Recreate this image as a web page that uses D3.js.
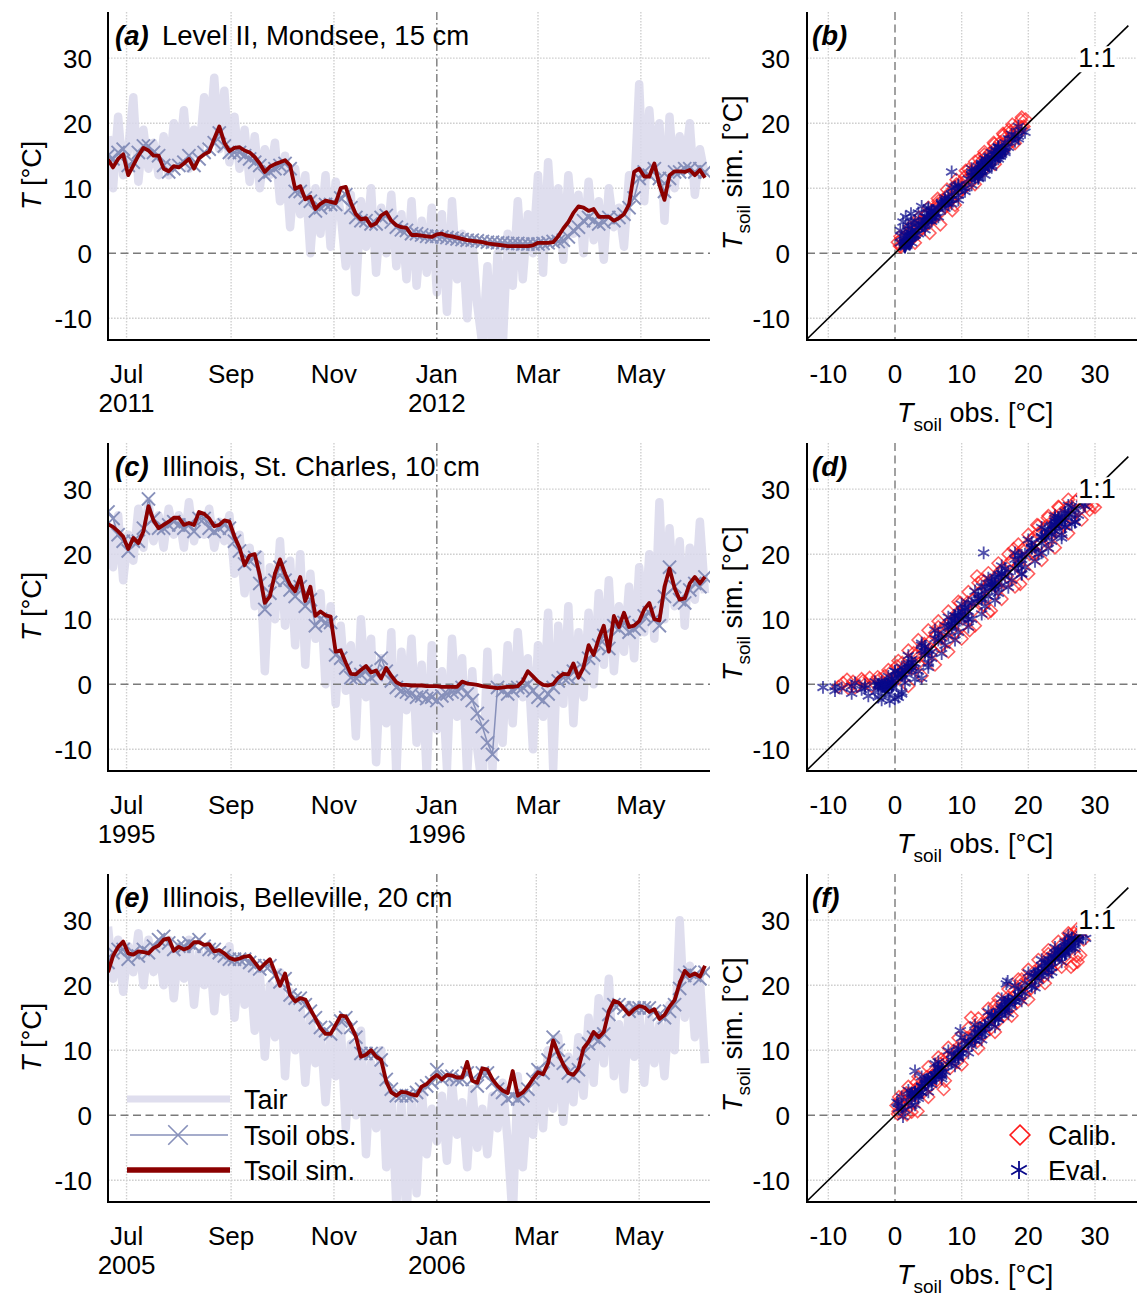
<!DOCTYPE html>
<html>
<head>
<meta charset="utf-8">
<script src="https://cdn.jsdelivr.net/npm/d3@7"></script>
<style>
  body { margin: 0; background: #fff; }
  svg { display: block; font-family: "Liberation Sans", Arial, Helvetica, sans-serif; }
</style>
</head>
<body>
<svg id="fig" width="1137" height="1298"></svg>
<script>
// ---------------------------------------------------------------
// Daily series sampled every third day, starting on the given date
// ---------------------------------------------------------------
const stepDays = 3;
const seriesStart = ["2011-06-20", "1995-06-20", "2005-06-20"];

// Level II, Mondsee, 15 cm
const tairA = [18,10,21,12,16,24,11,19,13,17,12, 18,12,20,14,22,13,19,15,24,17,27,16, 25,14,21,13,19,11,18,10,16,12,
  17,8,15,4,13,6,12,0,10, 3,12,1,11,6,-2,9, -6,8,1,10,-3,7,0,9,-2,6,-4, 8,-5,5,-3,7,-6,6, -9,8,-4,3,-10,2,-8,
  -14,-2,-16,0,-15,3, -5,8,-4,6,0,12, -3,14,2,10,-1,12,3, 9,0,11,2,8,-1,10,4, 7,1,12,9, 26,8,22,12,20,5, 21,10,18,13,20,9,16,12];
const obsA = [15.0,14.5,15.5,16.0,13.5,14.0,15.5,16.5,16.5,15.5,15.0, 13.5,12.5,13.0,13.5,14.0,15.0,13.5,14.5,15.5,16.0,17.0,18.5,
  16.5,15.5,15.5,15.5,15.0,14.5,14.0,13.5,12.0,12.5, 13.0,13.5,13.8,13.0,9.5,9.5,8.5,8.0,6.5, 7.0,7.5,7.5,7.5,8.5,9.0,7.0,
  5.5,5.0,5.0,4.5,4.5,5.5,5.8,4.8,4.0,3.6,3.5, 3.0,3.0,2.8,2.6,2.5,2.6,2.5, 2.4,2.3,2.2,2.1,2.0,2.0,1.9, 1.8,1.7,1.7,1.6,1.6,1.5,
  1.5,1.5,1.4,1.4,1.4,1.4, 1.5,1.6,1.8,1.8,2.0,2.5,3.5, 4.0,5.0,5.5,5.0,4.5,4.8,5.5,5.0, 5.5,6.0,7.0,8.5, 11.5,12.5,12.0,13.0,11.5,9.5,
  11.5,12.5,12.5,13.0,13.0,12.5,13.0,12.5];
const simA = [14.4,13.2,14.5,15.2,12.0,13.5,15.0,16.2,15.8,15.0,15.0, 13.0,12.6,13.4,13.2,13.8,14.5,13.0,14.6,15.2,15.6,17.6,19.5,
  17.0,15.7,16.2,16.3,15.8,15.5,14.8,13.8,12.5,13.3, 13.7,14.0,14.3,13.5,9.9,10.3,8.3,8.7,6.8, 7.6,8.1,7.9,7.7,10.0,10.2,7.8,
  6.0,5.2,5.4,4.2,4.6,5.8,6.3,5.0,4.3,4.0,3.9, 2.8,2.8,2.7,2.6,2.5,2.9,3.0, 2.7,2.6,2.4,2.2,2.0,1.9,1.8, 1.7,1.5,1.4,1.3,1.2,1.1,
  1.1,1.1,1.1,1.1,1.2,1.6, 1.6,1.6,1.7,2.6,3.8,4.8,6.2, 7.2,7.0,6.5,6.8,5.6,5.6,5.6,5.0, 5.4,6.0,7.5,12.5, 13.0,11.8,11.8,13.8,10.5,8.2,
  12.0,12.6,12.6,12.5,12.8,12.0,12.8,11.6];

// Illinois, St. Charles, 10 cm
const tairC = [24,18,26,16,23,19,27,21,28,22,26, 21,27,23,26,21,28,22,26,23,27,21,25, 22,26,17,23,14,21,12,20,2,18,
  10,22,9,19,6,20,3,17,7, 14,0,12,-3,9,-1,6, -8,10,-2,7,-12,4,-6,8,-14,5,-4, 7,-9,3,-14,6,-7,2, -13,7,-5,4,-14,2,-10,
  -16,5,-13,1,-9,6, -6,8,-2,4,-10,6, -5,11,-13,9,-3,12,-6, 8,-2,11,0,14,3,16,2, 12,5,15,4, 18,8,20,7,28,10, 24,12,22,9,21,13,25,14];
const obsC = [26.5,25.5,23.0,22.0,20.5,22.0,22.0,24.0,28.5,25.5,24.0, 24.0,24.5,25.0,24.5,24.0,24.5,23.5,25.5,25.5,24.0,23.5,24.0,
  24.5,24.0,22.0,20.5,18.5,19.0,19.5,15.5,11.5,14.0, 16.0,18.0,16.0,14.5,13.5,15.0,12.0,13.0,9.0, 10.0,9.5,9.5,4.5,4.0,2.5,1.0,
  1.0,1.5,2.0,1.0,1.5,4.0,2.0,0.5,-0.5,-1.0,-1.2, -1.5,-2.0,-1.8,-2.2,-2.0,-2.5,-1.8, -1.5,-1.2,-1.0,-0.5,-1.5,-2.5,-4.5,
  -6.5,-9.0,-10.8,-0.5,-1.0,-1.5, -1.0,-0.5,-0.5,0.0,-1.0,-2.0, -2.5,-1.5,-0.5,0.5,1.0,1.0,2.0, 1.5,2.5,4.0,4.5,6.0,7.5,5.5,9.0,
  8.5,9.5,8.0,8.5, 9.0,10.5,11.0,10.0,9.0,13.5, 18.0,15.0,13.0,12.5,14.5,15.5,15.0,16.5];
const simC = [24.6,24.2,23.5,22.7,20.8,22.5,21.7,23.5,27.4,25.2,24.0, 24.5,25.0,25.6,25.6,24.5,24.8,24.5,26.5,26.2,25.5,24.3,24.5,
  25.2,25.0,22.7,21.0,18.3,19.8,20.0,16.8,12.5,13.5, 17.0,19.2,17.0,15.3,14.3,16.5,12.8,15.0,10.5, 11.2,10.6,10.4,5.0,5.2,3.3,1.6,
  1.5,2.2,2.8,1.8,2.1,0.9,2.5,1.3,0.3,-0.1,-0.1, -0.2,-0.2,-0.2,-0.3,-0.3,-0.3,-0.4, -0.4,-0.4,-0.4,0.4,0.1,0.0,-0.1,
  -0.3,-0.4,-0.5,-0.6,-0.5,-0.4, -0.4,-0.3,0.5,2.0,1.2,0.4, -0.1,-0.2,0.0,1.0,1.6,1.5,3.2, 1.0,2.6,6.0,4.5,7.0,9.0,5.0,10.5,
  8.8,11.0,8.8,9.0, 9.7,11.5,12.5,10.0,9.8,15.0, 17.8,14.8,13.0,13.2,15.5,16.5,15.5,16.5];

// Illinois, Belleville, 20 cm
const tairE = [29,21,27,19,26,22,28,20,27,22,26, 20,27,18,26,21,27,17,25,20,26,16,25, 19,26,15,24,17,23,13,22,9,20,
  12,22,6,19,10,17,5,15,8, 13,2,12,6,14,-2,11, 0,13,-6,8,-2,10,-8,4,-14,2,-16, 3,-12,4,-6,1,-4,3, -7,5,-3,2,-8,4,-5,
  1,-6,3,-2,5,-4, -16,6,-8,3,-3,7, -2,10,1,12,-1,9,2, 12,3,15,5,18,8,21,6, 14,4,17,9, 16,5,15,8,14,6, 17,10,30,15,23,12,21,8];
const obsE = [23.5,25.0,25.5,25.5,24.0,25.0,24.5,25.5,25.0,26.0,27.0, 27.5,26.5,25.5,26.0,26.0,26.5,26.0,27.0,26.0,25.5,25.5,25.0,
  24.5,24.0,24.0,24.0,24.0,23.5,23.0,22.5,23.0,23.0, 21.5,20.5,21.0,18.5,18.0,18.0,17.0,16.0,15.0, 13.5,13.0,12.5,13.5,14.5,15.0,13.5,
  12.0,9.5,9.5,9.5,9.5,8.5,5.5,4.0,3.0,3.0,3.0, 3.0,3.5,4.0,4.5,5.0,7.0,5.5, 6.0,6.0,5.5,5.5,6.5,5.5,4.5, 6.5,6.5,5.0,4.0,3.5,2.5,
  3.0,2.5,3.0,4.0,5.5,7.0, 6.5,8.5,12.0,10.0,8.0,6.5,6.0, 7.0,9.5,11.0,12.0,11.5,12.5,15.5,17.0, 17.0,16.5,16.0,16.5,
  16.5,16.5,16.5,16.0,15.5,15.0, 16.0,17.0,19.5,21.5,22.0,21.5,21.0,22.0];
const simE = [22.0,24.5,25.9,26.7,24.9,24.7,25.2,25.1,24.9,25.7,26.1, 27.0,27.2,25.3,25.9,25.5,25.8,26.6,26.6,26.2,26.3,25.2,25.4,
  24.9,24.2,23.9,24.1,24.4,24.5,23.5,22.5,23.3,24.0, 22.0,19.9,21.8,18.5,17.5,18.0,17.8,16.3,14.9, 13.4,12.5,12.5,13.9,15.3,15.2,13.8,
  12.1,9.0,9.3,10.0,9.0,8.5,5.2,3.5,3.0,3.6,3.5, 3.2,3.0,4.4,4.8,5.6,6.2,5.5, 6.2,6.1,5.8,5.8,8.2,5.3,5.0, 7.2,7.0,5.5,4.5,3.8,3.4,
  6.8,3.0,3.5,4.4,5.6,6.6, 6.3,8.0,11.5,9.5,7.8,6.5,6.2, 7.2,10.3,11.3,12.8,12.0,12.8,16.0,17.6, 17.3,16.4,15.5,16.3,
  16.8,16.6,15.9,16.3,14.8,15.4, 16.7,17.7,20.3,22.2,21.4,21.8,21.3,23.0];

// ---------------------------------------------------------------
// Scatter points [observed, simulated]: calibration years, and the
// evaluation years besides the one shown in the time series
// ---------------------------------------------------------------
const calibB = [[0.4,1.7],[0.7,1.1],[1.0,2.2],[1.3,1.5],[1.6,2.6],[2.0,1.8],[2.3,3.3],[2.7,2.4],[3.0,4.0],[3.4,3.2],
  [3.8,4.8],[4.1,3.8],[4.5,5.7],[4.9,4.5],[5.2,3.1],[5.6,6.6],[6.0,5.6],[6.4,7.5],[6.8,4.4],[7.1,8.1],[7.5,7.1],[7.9,9.0],
  [8.3,8.1],[8.6,6.6],[9.0,10.2],[9.4,9.1],[9.8,10.9],[10.2,9.9],[10.5,11.8],[10.9,10.5],[11.3,12.5],[11.7,11.2],[12.0,13.1],
  [12.4,12.2],[12.8,14.0],[13.2,12.7],[13.5,14.7],[13.9,13.6],[14.3,15.5],[14.7,14.2],[15.0,16.2],[15.4,15.2],[15.8,17.1],
  [16.2,15.7],[16.5,17.7],[16.9,16.6],[17.3,18.7],[17.7,17.3],[18.1,19.4],[18.5,18.4],[18.9,20.5],[19.3,19.5],[19.6,20.6],
  [0.9,1.0],[1.8,2.9],[2.5,3.0],[3.2,4.6],[4.0,4.4],[4.7,6.0],[5.4,5.2],[6.2,6.9],[7.0,6.5],[7.7,8.6],[8.5,8.3],[9.2,10.6],
  [9.9,9.6],[10.7,11.3],[11.5,12.0],[12.2,12.6],[13.0,13.5],[13.7,14.2],[14.5,15.0],[15.2,15.7],[16.0,16.6],[16.7,17.2],
  [17.5,18.1],[18.2,18.9],[19.0,19.4],[6.5,8.0],[8.8,9.9],[12.6,14.5],[14.9,16.8],[17.1,19.0],[4.2,4.9],[2.9,2.6],[11.0,12.9],
  [13.4,15.2],[16.3,18.2],
  [0.8,2.6],[2.2,4.0],[3.6,5.5],[5.0,7.0],[6.4,8.4],[7.8,9.8],[9.2,11.3],[10.6,12.7],[12.0,14.1],[13.4,15.6],[14.8,17.0],
  [16.2,18.4],[17.6,19.8],[19.0,20.9],[3.0,1.6],[9.0,7.4],[12.0,10.6],[15.0,13.7],[18.0,16.9]];
const calibD = [[-8.5,-0.4],[-7.8,0.2],[-7.0,-0.6],[-6.3,0.4],[-5.6,-0.2],[-5.0,0.8],[-4.4,0.1],[-3.8,1.0],[-3.2,0.3],
  [-2.6,1.1],[-2.0,0.2],[-1.5,1.3],[-1.0,0.6],[-0.5,2.0],[0.0,1.2],[0.3,2.8],[0.7,1.6],[1.1,3.3],[1.5,2.0],[2.0,3.6],
  [2.5,2.4],[3.0,4.4],[3.5,3.2],[4.0,5.6],[4.6,4.0],[5.1,6.4],[5.7,5.1],[6.2,7.5],[6.8,5.9],[7.3,8.4],[7.9,6.6],[8.4,9.6],
  [9.0,7.9],[9.5,10.8],[10.1,9.0],[10.6,11.9],[11.2,8.3],[11.7,13.0],[12.3,16.6],[12.8,14.2],[13.3,12.2],[13.9,15.2],
  [14.4,11.3],[15.0,16.4],[15.5,14.6],[16.1,17.7],[16.6,15.8],[17.2,18.7],[17.7,16.9],[18.3,19.9],[18.8,15.4],[19.4,21.0],
  [19.9,19.1],[20.5,22.2],[21.0,20.1],[21.6,23.3],[22.1,21.2],[22.7,24.3],[23.2,22.5],[23.8,25.3],[24.3,23.6],[24.9,26.3],
  [25.4,24.6],[26.0,27.2],[26.5,25.7],[27.1,28.1],[27.6,26.8],[28.2,28.3],[28.8,27.4],[29.6,27.5],[30.0,27.2],
  [-7.2,0.7],[-6.0,-0.5],[-4.8,0.5],[-3.5,-0.3],[-2.3,0.8],[-1.2,-0.2],[-0.2,0.6],[0.5,0.9],[1.3,2.5],[2.2,2.8],[2.8,4.8],
  [3.7,4.3],[4.4,6.2],[5.3,5.5],[6.0,7.9],[6.9,7.0],[7.6,9.1],[8.5,8.4],[9.3,10.9],[10.2,10.1],[10.9,12.6],[11.8,11.4],
  [12.5,13.9],[13.6,13.1],[14.2,15.9],[15.2,15.1],[15.8,17.4],[16.8,16.6],[17.5,19.1],[18.5,18.3],[19.1,20.7],[20.2,20.0],
  [20.8,22.6],[21.8,21.6],[22.4,24.0],[23.5,23.3],[24.1,25.8],[25.1,24.9],[25.7,27.0],[26.8,26.5],[27.3,28.4],[28.5,28.0],
  [13.0,16.0],[17.8,20.8],[21.3,24.5],[9.8,12.5],[6.5,8.8],[24.6,27.2],[22.9,25.6],
  [-1.0,2.2],[0.5,3.6],[2.0,5.2],[3.5,6.8],[5.0,8.3],[6.5,9.7],[8.0,11.2],[9.5,12.7],[11.0,14.2],[12.5,15.6],[14.0,17.1],
  [15.5,18.6],[17.0,20.0],[18.5,21.5],[20.0,23.0],[21.5,24.4],[23.0,25.9],[24.5,27.3],[26.0,28.4],[2.0,-0.3],[4.0,1.3],
  [6.0,3.0],[8.0,5.0],[10.0,7.0],[12.0,9.0],[14.0,11.0],[16.0,13.1],[18.0,15.0],[20.0,17.0],[22.0,19.1],[24.0,21.0],
  [26.0,23.2],[28.0,25.3],[29.2,26.8]];
const calibF = [[0.2,1.5],[0.5,0.6],[0.8,2.4],[1.1,1.2],[1.5,2.9],[1.8,0.1],[2.2,3.3],[2.6,1.9],[3.0,3.9],[3.4,0.6],
  [3.8,4.7],[4.3,3.6],[4.8,5.9],[5.3,4.5],[5.8,6.8],[6.3,5.4],[6.8,7.9],[7.3,4.0],[7.8,8.8],[8.3,7.3],[8.8,9.9],[9.3,8.2],
  [9.8,10.8],[10.3,9.4],[10.8,11.9],[11.4,15.0],[11.9,12.8],[12.4,11.4],[12.9,14.0],[13.4,12.5],[13.9,15.0],[14.4,13.4],
  [14.9,16.0],[15.4,14.4],[15.9,17.1],[16.4,15.4],[16.9,18.1],[17.4,16.5],[17.9,19.2],[18.4,17.4],[18.9,20.1],[19.4,18.6],
  [19.9,21.0],[20.4,19.5],[20.9,22.1],[21.4,20.5],[21.9,23.0],[22.4,21.4],[22.9,24.1],[23.4,22.5],[23.9,25.0],[24.4,23.4],
  [24.9,26.1],[25.4,24.3],[25.9,27.0],[26.4,22.8],[26.9,28.0],[27.4,23.6],[27.9,28.4],[28.3,27.0],
  [0.4,0.2],[0.9,1.6],[1.3,0.4],[2.0,2.4],[2.8,3.2],[3.6,4.1],[4.5,4.9],[5.5,6.0],[6.5,6.8],[7.5,7.9],[8.5,8.9],[9.5,10.0],
  [10.5,10.8],[11.6,12.0],[12.6,13.1],[13.6,14.1],[14.6,15.1],[15.6,16.0],[16.6,17.1],[17.6,18.1],[18.6,19.0],[19.6,20.1],
  [20.6,21.1],[21.6,22.1],[22.6,23.0],[23.6,24.1],[24.6,25.0],[25.6,26.1],[26.6,27.1],[27.6,27.9],[28.5,28.6],[1.7,3.4],
  [3.2,5.0],[7.0,8.6],[15.0,16.9],[19.0,20.9],[23.0,24.8],[26.2,27.8],[27.2,24.5],[26.8,23.2],
  [0.6,2.8],[2.0,4.4],[3.5,5.9],[5.0,7.4],[6.5,8.9],[8.0,10.4],[9.5,11.9],[11.0,13.4],[12.5,14.9],[14.0,16.4],[15.5,17.9],
  [17.0,19.4],[18.5,20.9],[20.0,22.4],[21.5,23.9],[23.0,25.4],[24.5,26.7],[26.0,28.0],[27.3,28.6],[2.5,0.5],[5.0,2.8],
  [7.5,5.3],[10.0,7.8],[12.5,10.3],[15.0,12.8],[17.5,15.3],[20.0,17.8],[22.5,20.3],[25.0,22.8],[27.8,24.6]];
const evalB = [[0.8,3.5],[1.2,4.8],[1.6,5.6],[2.0,4.2],[2.4,6.1],[1.0,2.6],[3.0,5.0],[2.6,3.6],[18.5,18.0],[19.5,18.6],
  [17.0,16.3],[15.8,14.9],[10.5,10.0],[8.0,7.6],[6.0,5.5],
  [0.8,1.6],[1.5,0.9],[2.5,3.0],[3.5,3.0],[4.5,5.0],[5.5,4.9],[6.5,7.0],[7.5,6.9],[8.5,9.0],[9.5,8.9],[11.0,11.4],
  [12.0,11.6],[13.0,13.4],[14.0,13.5],[15.0,15.3],[16.0,15.5],[17.5,17.6],[18.0,17.2],[19.0,18.8],
  [1.5,2.8],[2.5,1.6],[3.5,4.6],[4.5,3.6],[5.5,6.6],[6.5,5.6],[7.5,8.5],[8.5,7.6],[9.5,10.5],[10.5,9.5],[11.5,12.5],
  [12.5,11.5],[13.5,14.5],[14.5,13.5],[15.5,16.4],[16.5,15.5],[17.5,18.3],[18.5,17.6],[4.0,4.2],[6.0,6.2],[8.0,8.2],
  [10.0,10.1],[12.0,12.2],[14.0,14.1],[16.0,16.2],[18.0,18.1]];
const evalD = [[13.3,20.2],[-9.0,-1.0],[-6.5,-1.4],[-4.0,-1.8],[-2.0,-2.4],[0.0,-2.3],[1.0,-1.2],[25.0,22.5],[27.0,25.0],
  [28.5,28.6],[22.0,20.2],[19.0,17.0],[8.0,7.5],[5.0,3.2],[16.0,15.2],[11.0,10.0],[20.5,21.0],[23.5,23.0],[26.0,26.2],
  [0.5,1.5],[1.5,0.2],[2.5,3.8],[3.5,2.0],[4.5,5.8],[5.5,4.0],[6.5,7.8],[7.5,6.0],[8.5,9.8],[9.5,8.0],[10.5,11.8],[11.5,10.0],
  [12.5,13.8],[13.5,12.0],[14.5,15.8],[15.5,14.0],[16.5,17.8],[17.5,16.0],[18.5,19.8],[19.5,18.0],[20.5,21.8],[21.5,20.0],
  [22.5,23.8],[23.5,22.0],[24.5,25.6],[25.5,24.2],[26.5,27.3],[27.5,26.0],[28.3,27.6],[1.0,2.6],[3.0,3.2],[5.0,5.3],[7.0,7.1],
  [9.0,9.4],[11.0,11.2],[13.0,13.3],[15.0,15.1],[17.0,17.3],[19.0,19.2],[21.0,21.1],[23.0,23.3],[25.0,25.1],[27.0,26.9],
  [-1.0,-1.5],[-3.0,-1.2],[-5.0,-0.8],[-0.5,0.8],
  [0.0,2.0],[1.0,-1.5],[2.0,4.4],[3.0,0.8],[4.0,6.3],[5.0,2.6],[6.0,8.3],[7.0,4.7],[8.0,10.3],[9.0,6.8],[10.0,12.3],
  [11.0,8.8],[12.0,14.3],[13.0,10.8],[14.0,16.3],[15.0,12.9],[16.0,18.2],[17.0,14.9],[18.0,20.2],[19.0,16.9],[20.0,22.2],
  [21.0,18.9],[22.0,24.1],[23.0,20.9],[24.0,25.9],[25.0,23.0],[26.0,27.5],[27.0,24.9],[28.0,28.5],[2.5,2.2],[6.5,6.8],
  [10.5,10.3],[14.5,14.8],[18.5,18.3],[22.5,22.8],[26.5,26.1],[-6.0,0.2],[-4.5,-0.6],[-3.0,0.4],[-1.5,-1.0],[-8.0,-0.6],
  [-2.5,-2.0],[-0.8,-2.6],[0.5,-2.0]];
const evalF = [[16.7,20.2],[16.9,20.6],[9.8,13.0],[1.0,2.8],[0.5,1.0],[2.5,1.5],[7.0,6.0],[12.0,11.5],[18.0,17.5],
  [20.5,19.8],[23.0,22.3],[25.5,25.0],[27.5,27.0],[28.5,28.8],[4.0,3.5],[14.5,14.0],
  [0.5,1.8],[1.5,0.8],[2.5,3.3],[3.5,2.6],[4.5,5.4],[5.5,4.7],[6.5,7.4],[7.5,6.7],[8.5,9.4],[9.5,8.7],[10.5,11.4],[11.5,10.7],
  [12.5,13.4],[13.5,12.7],[14.5,15.4],[15.5,14.7],[16.5,17.4],[17.5,16.7],[18.5,19.4],[19.5,18.7],[20.5,21.4],[21.5,20.7],
  [22.5,23.4],[23.5,22.7],[24.5,25.4],[25.5,24.7],[26.5,27.3],[27.5,26.8],[28.2,27.9],[1.0,1.2],[3.0,3.1],[5.0,5.0],[7.0,7.2],
  [9.0,9.1],[11.0,11.0],[13.0,13.2],[15.0,15.0],[17.0,17.2],[19.0,19.0],[21.0,21.2],[23.0,23.0],[25.0,25.2],[27.0,27.0],
  [0.3,2.0],[1.2,-0.2],[2.0,3.8],[3.0,1.6],[4.0,5.9],[5.0,3.6],[6.0,7.9],[7.0,5.6],[8.0,9.9],[9.0,7.6],[10.0,11.9],
  [11.0,9.6],[12.0,13.9],[13.0,11.6],[14.0,15.9],[15.0,13.6],[16.0,17.9],[17.0,15.6],[18.0,19.9],[19.0,17.6],[20.0,21.9],
  [21.0,19.6],[22.0,23.9],[23.0,21.6],[24.0,25.8],[25.0,23.6],[26.0,27.6],[27.0,25.6],[28.0,28.6],[28.6,27.2],[2.0,2.0],
  [6.0,6.1],[10.0,10.1],[14.0,14.2],[18.0,18.0],[22.0,22.1],[26.0,26.0]];

// Labels
const yTicks = [-10, 0, 10, 20, 30];
const panelTitles = [["(a)", "Level II, Mondsee, 15 cm"], ["(c)", "Illinois, St. Charles, 10 cm"], ["(e)", "Illinois, Belleville, 20 cm"]];
const scatterTags = ["(b)", "(d)", "(f)"];
const legendTs = ["Tair", "Tsoil obs.", "Tsoil sim."];
const legendSc = ["Calib.", "Eval."];

// ---------------------------------------------------------------
// Layout and style
// ---------------------------------------------------------------
const svg = d3.select("#fig");
const parse = d3.timeParse("%Y-%m-%d");
const rowTop = [12, 443, 874];
const plotH = 328;
const tsX = [108, 710];
const scX = [807, 1137];
const yDom = [-13.35, 37.1];
const sxDom = [-13.2, 36.3];
const col = {
  tair: "#d9d8eb", obs: "#8790ba", sim: "#8b0000",
  calib: "#ff1a1a", evl: "#08088a", grid: "#cfcfcf", zero: "#7a7a7a"
};
const tickFont = 26, labFont = 27;

const rows = [
  { tair: tairA, obs: obsA, sim: simA, calib: calibB, extra: evalB },
  { tair: tairC, obs: obsC, sim: simC, calib: calibD, extra: evalD },
  { tair: tairE, obs: obsE, sim: simE, calib: calibF, extra: evalF }
];

function gridLine(g, x1, y1, x2, y2, kind) {
  const l = g.append("line").attr("x1", x1).attr("y1", y1).attr("x2", x2).attr("y2", y2);
  if (kind === "grid") l.attr("stroke", col.grid).attr("stroke-width", 1.4).attr("stroke-dasharray", "1.6,1.4");
  else if (kind === "zero") l.attr("stroke", col.zero).attr("stroke-width", 1.4).attr("stroke-dasharray", "8,4.5");
  else if (kind === "year") l.attr("stroke", col.zero).attr("stroke-width", 1.4).attr("stroke-dasharray", "8,3,1.5,3");
  return l;
}

rows.forEach((r, k) => {
  const top = rowTop[k], bot = top + plotH;
  const y = d3.scaleLinear().domain(yDom).range([bot, top]);
  const t0 = parse(seriesStart[k]);
  const x = d3.scaleTime().domain([t0, d3.timeHour.offset(t0, 357 * 24)]).range(tsX);
  const dateAt = i => d3.timeDay.offset(t0, i * stepDays);

  // ---------------- time series panel ----------------
  const g = svg.append("g");
  const clipId = "clipTs" + k;
  svg.append("clipPath").attr("id", clipId).append("rect")
    .attr("x", tsX[0]).attr("y", top).attr("width", tsX[1] - tsX[0]).attr("height", plotH);

  const months = x.ticks(d3.timeMonth.every(2));
  yTicks.filter(v => v !== 0).forEach(v => gridLine(g, tsX[0], y(v), tsX[1], y(v), "grid"));
  months.filter(m => m.getMonth() !== 0).forEach(m => gridLine(g, x(m), top, x(m), bot, "grid"));

  const plot = g.append("g").attr("clip-path", `url(#${clipId})`);
  const line = d3.line().x((d, i) => x(dateAt(i))).y(d => y(d));

  // air temperature as a broad translucent line
  plot.append("path").datum(r.tair).attr("d", line)
    .attr("fill", "none").attr("stroke", col.tair).attr("stroke-opacity", 0.85)
    .attr("stroke-width", 8.5).attr("stroke-linejoin", "round");

  gridLine(g, tsX[0], y(0), tsX[1], y(0), "zero");
  months.filter(m => m.getMonth() === 0).forEach(m => gridLine(g, x(m), top, x(m), bot, "year"));

  const plot2 = g.append("g").attr("clip-path", `url(#${clipId})`);
  plot2.append("path").datum(r.obs).attr("d", line)
    .attr("fill", "none").attr("stroke", col.obs).attr("stroke-width", 1.5);
  const xMark = d3.symbol(d3.symbolTimes, 115);
  plot2.append("g").selectAll("path").data(r.obs).join("path")
    .attr("d", xMark).attr("transform", (d, i) => `translate(${x(dateAt(i))},${y(d)})`)
    .attr("fill", "none").attr("stroke", col.obs).attr("stroke-width", 1.9);
  plot2.append("path").datum(r.sim).attr("d", line)
    .attr("fill", "none").attr("stroke", col.sim).attr("stroke-width", 3.8)
    .attr("stroke-linejoin", "round");

  // spines
  g.append("line").attr("x1", tsX[0]).attr("x2", tsX[0]).attr("y1", top).attr("y2", bot + 1)
    .attr("stroke", "#000").attr("stroke-width", 2);
  g.append("line").attr("x1", tsX[0] - 1).attr("x2", tsX[1]).attr("y1", bot).attr("y2", bot)
    .attr("stroke", "#000").attr("stroke-width", 2);

  // tick labels
  g.append("g").selectAll("text").data(yTicks).join("text")
    .attr("x", 92).attr("y", d => y(d)).attr("dy", "0.36em").attr("text-anchor", "end")
    .attr("font-size", tickFont).text(d => d);
  months.forEach((m, i) => {
    g.append("text").attr("x", x(m)).attr("y", bot + 43)
      .attr("text-anchor", "middle").attr("font-size", tickFont).text(d3.timeFormat("%b")(m));
    if (i === 0 || m.getMonth() === 0) {
      g.append("text").attr("x", x(m)).attr("y", bot + 72)
        .attr("text-anchor", "middle").attr("font-size", tickFont).text(d3.timeFormat("%Y")(m));
    }
  });

  // y axis label
  const yl = g.append("text").attr("transform", `translate(41,${top + 198}) rotate(-90)`)
    .attr("font-size", labFont);
  yl.append("tspan").attr("font-style", "italic").text("T");
  yl.append("tspan").text(" [°C]");

  // title
  g.append("text").attr("x", 115).attr("y", top + 33).attr("font-size", 27.5)
    .attr("font-weight", "bold").attr("font-style", "italic").text(panelTitles[k][0]);
  g.append("text").attr("x", 162).attr("y", top + 33).attr("font-size", 27.5).text(panelTitles[k][1]);

  // ---------------- scatter panel ----------------
  const s = svg.append("g");
  const sx = d3.scaleLinear().domain(sxDom).range(scX);
  const clipS = "clipSc" + k;
  svg.append("clipPath").attr("id", clipS).append("rect")
    .attr("x", scX[0]).attr("y", top).attr("width", scX[1] - scX[0]).attr("height", plotH);

  yTicks.filter(v => v !== 0).forEach(v => {
    gridLine(s, scX[0], y(v), scX[1], y(v), "grid");
    gridLine(s, sx(v), top, sx(v), bot, "grid");
  });
  gridLine(s, scX[0], y(0), scX[1], y(0), "zero");
  gridLine(s, sx(0), top, sx(0), bot, "zero");

  const sp = s.append("g").attr("clip-path", `url(#${clipS})`);
  const dia = d3.symbol(d3.symbolDiamond2, 100);
  sp.append("g").selectAll("path").data(r.calib).join("path")
    .attr("d", dia).attr("transform", d => `translate(${sx(d[0])},${y(d[1])})`)
    .attr("fill", "none").attr("stroke", col.calib).attr("stroke-width", 1.6).attr("stroke-opacity", 0.7);

  const evalPts = r.obs.map((o, i) => [o, r.sim[i]]).concat(r.extra);
  const ast = d3.symbol(d3.symbolAsterisk, 115);
  sp.append("g").selectAll("path").data(evalPts).join("path")
    .attr("d", ast).attr("transform", d => `translate(${sx(d[0])},${y(d[1])})`)
    .attr("fill", "none").attr("stroke", col.evl).attr("stroke-width", 1.8).attr("stroke-opacity", 0.7);

  // 1:1 line with its label
  const oneLine = d3.line().x(d => sx(d)).y(d => y(d));
  sp.append("path").datum([yDom[0], 35]).attr("d", oneLine)
    .attr("fill", "none").attr("stroke", "#000").attr("stroke-width", 1.6);
  const lbl = s.append("text").attr("x", sx(30.3)).attr("y", y(28.6))
    .attr("text-anchor", "middle").attr("font-size", labFont).text("1:1");
  const bb = lbl.node().getBBox();
  s.insert("rect", () => lbl.node()).attr("x", bb.x - 1).attr("y", bb.y + 3)
    .attr("width", bb.width + 2).attr("height", bb.height - 4).attr("fill", "#fff");

  // spines
  s.append("line").attr("x1", scX[0]).attr("x2", scX[0]).attr("y1", top).attr("y2", bot + 1)
    .attr("stroke", "#000").attr("stroke-width", 2);
  s.append("line").attr("x1", scX[0] - 1).attr("x2", scX[1]).attr("y1", bot).attr("y2", bot)
    .attr("stroke", "#000").attr("stroke-width", 2);

  // tick labels
  s.append("g").selectAll("text").data(yTicks).join("text")
    .attr("x", 790).attr("y", d => y(d)).attr("dy", "0.36em").attr("text-anchor", "end")
    .attr("font-size", tickFont).text(d => d);
  s.append("g").selectAll("text").data(yTicks).join("text")
    .attr("x", d => sx(d)).attr("y", bot + 43).attr("text-anchor", "middle")
    .attr("font-size", tickFont).text(d => d);

  // axis labels with subscripts
  const xl = s.append("text").attr("x", 897).attr("y", bot + 82).attr("font-size", labFont);
  xl.append("tspan").attr("font-style", "italic").text("T");
  xl.append("tspan").attr("font-size", 19).attr("dy", 9).text("soil");
  xl.append("tspan").attr("dy", -9).text(" obs. [°C]");

  const sl = s.append("text").attr("transform", `translate(742,${top + 238}) rotate(-90)`)
    .attr("font-size", labFont);
  sl.append("tspan").attr("font-style", "italic").text("T");
  sl.append("tspan").attr("font-size", 19).attr("dy", 8).text("soil");
  sl.append("tspan").attr("dy", -8).text(" sim. [°C]");

  s.append("text").attr("x", 812).attr("y", top + 33).attr("font-size", 27.5)
    .attr("font-weight", "bold").attr("font-style", "italic").text(scatterTags[k]);

  // ---------------- legends (bottom row) ----------------
  if (k === 2) {
    const L = svg.append("g");
    const rowsY = [1099, 1135, 1170];
    L.append("line").attr("x1", 127).attr("x2", 230).attr("y1", rowsY[0]).attr("y2", rowsY[0])
      .attr("stroke", col.tair).attr("stroke-opacity", 0.85).attr("stroke-width", 7);
    L.append("line").attr("x1", 130).attr("x2", 228).attr("y1", rowsY[1]).attr("y2", rowsY[1])
      .attr("stroke", col.obs).attr("stroke-width", 1.6);
    L.append("path").attr("d", d3.symbol(d3.symbolTimes, 250)).attr("transform", `translate(178,${rowsY[1]})`)
      .attr("fill", "none").attr("stroke", col.obs).attr("stroke-width", 1.6);
    L.append("line").attr("x1", 127).attr("x2", 230).attr("y1", rowsY[2]).attr("y2", rowsY[2])
      .attr("stroke", col.sim).attr("stroke-width", 5.5);
    legendTs.forEach((t, i) => L.append("text").attr("x", 244).attr("y", rowsY[i]).attr("dy", "0.36em")
      .attr("font-size", labFont).text(t));

    const F = svg.append("g");
    F.append("path").attr("d", d3.symbol(d3.symbolDiamond2, 250)).attr("transform", "translate(1020,1135)")
      .attr("fill", "none").attr("stroke", col.calib).attr("stroke-width", 1.6);
    F.append("path").attr("d", d3.symbol(d3.symbolAsterisk, 230)).attr("transform", "translate(1019,1170)")
      .attr("fill", "none").attr("stroke", col.evl).attr("stroke-width", 1.8);
    legendSc.forEach((t, i) => F.append("text").attr("x", 1048).attr("y", [1135, 1170][i]).attr("dy", "0.36em")
      .attr("font-size", labFont).text(t));
  }
});
</script>
</body>
</html>
